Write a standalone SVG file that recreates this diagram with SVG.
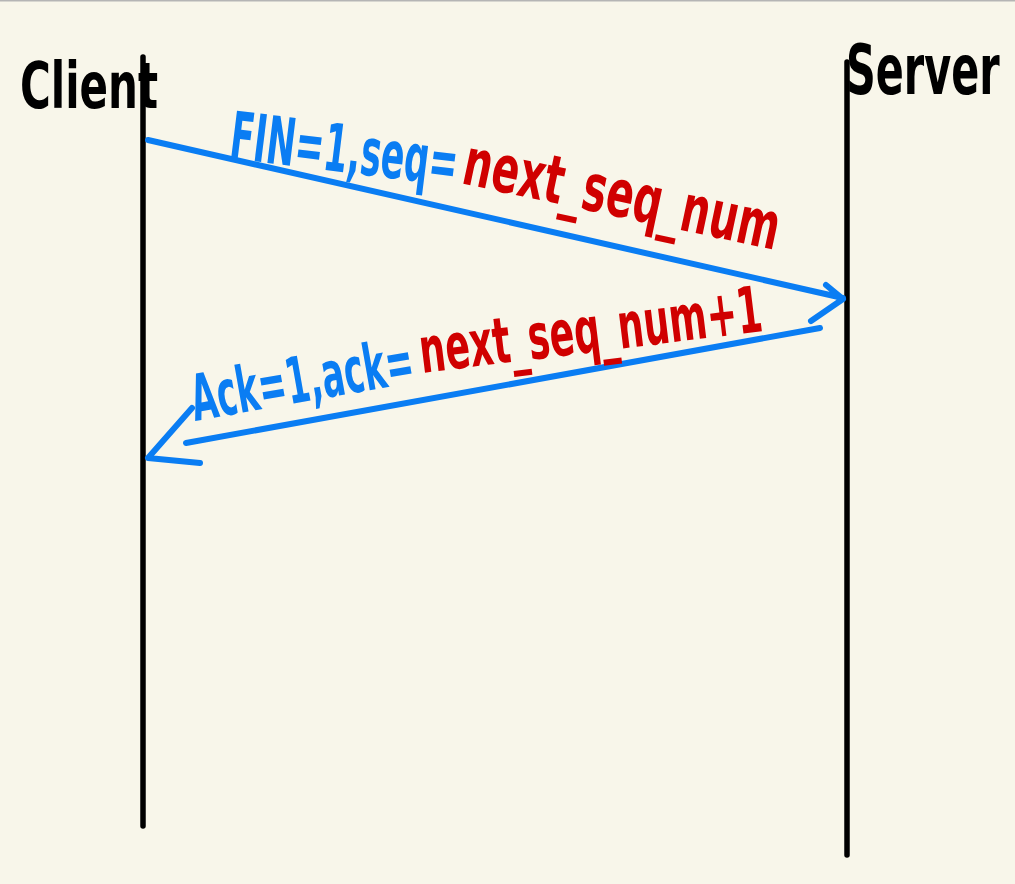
<svg xmlns="http://www.w3.org/2000/svg" width="1015" height="884" viewBox="0 0 1015 884">
<style>
.bg{fill:#F8F6EA}
.life{stroke:#000;stroke-width:5.5;stroke-linecap:round;fill:none}
.msg{stroke:#0A7DF3;stroke-width:6;stroke-linecap:round;stroke-linejoin:round;fill:none}
.hand{font-family:"Liberation Sans Narrow","DejaVu Sans Condensed","Liberation Sans",sans-serif;font-weight:bold}
.name{fill:#000}
.blue{fill:#0A7DF3}
.red{fill:#D00000}
</style>
<rect class="bg" x="0" y="0" width="1015" height="884"/>
<line x1="0" y1="0.5" x2="1015" y2="0.5" stroke="#B5B5B5" stroke-width="2"/>
<g id="client">
<line class="life" x1="143" y1="57" x2="143" y2="826"/>
<text class="hand name" x="20" y="108" font-size="64" textLength="138" lengthAdjust="spacingAndGlyphs">Client</text>
</g>
<g id="server">
<line class="life" x1="847" y1="62" x2="847" y2="855"/>
<text class="hand name" x="0" y="0" font-size="46" transform="translate(846 94) scale(1 1.5)">Server</text>
</g>
<g id="connectors">
<path class="msg" d="M148,140 L843,298 M826,285 L843,299 L811,321"/>
<path class="msg" d="M820,328 L186,443 M192,408 L148,458 L200,463"/>
</g>
<g id="label-fin">
<text class="hand blue" x="228" y="158" font-size="66" textLength="229" lengthAdjust="spacingAndGlyphs" transform="rotate(7 228 158)">FIN=1,seq=</text>
<text class="hand red" x="460" y="183" font-size="66" textLength="322" lengthAdjust="spacingAndGlyphs" transform="rotate(12 460 183)">next_seq_num</text>
</g>
<g id="label-ack">
<text class="hand blue" x="195" y="421" font-size="64" textLength="225" lengthAdjust="spacingAndGlyphs" transform="rotate(-10 195 421)">Ack=1,ack=</text>
<text class="hand red" x="422" y="373" font-size="64" textLength="345" lengthAdjust="spacingAndGlyphs" transform="rotate(-7 422 373)">next_seq_num+1</text>
</g>
</svg>
